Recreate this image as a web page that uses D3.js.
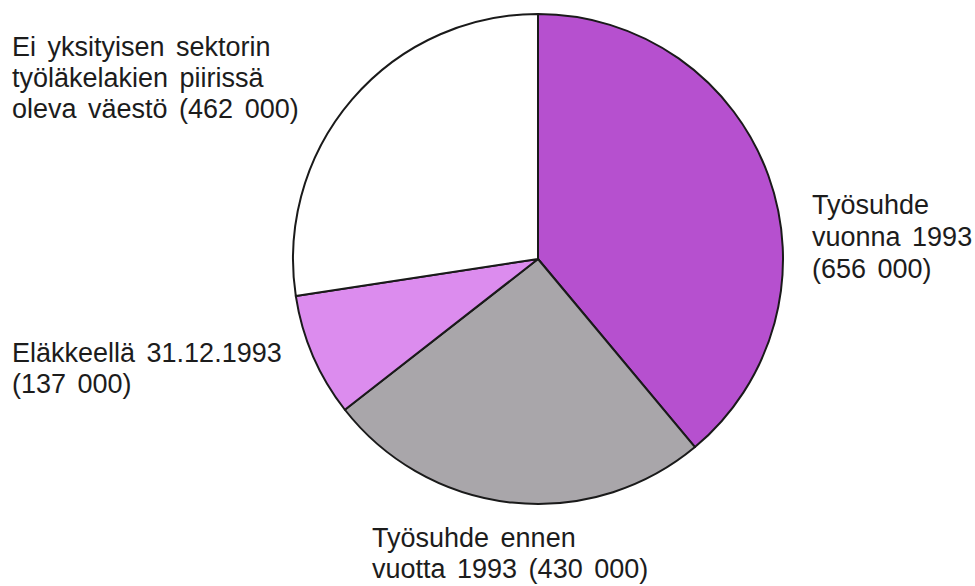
<!DOCTYPE html>
<html>
<head>
<meta charset="utf-8">
<script src="https://cdn.jsdelivr.net/npm/d3@7"></script>
<style>
  body { margin: 0; background: #fff; }
</style>
</head>
<body>
<script>

// Data, clockwise from 12 o'clock
var categories = ["Työsuhde vuonna 1993", "Työsuhde ennen vuotta 1993", "Eläkkeellä 31.12.1993", "Ei yksityisen sektorin työläkelakien piirissä oleva väestö"];
var values = [656000, 430000, 137000, 462000];
var sliceColors = ["#b650cf", "#a9a6aa", "#dc8cee", "#ffffff"];

// Label lines per slice
var labelLines = [
  ["Työsuhde", "vuonna 1993", "(656 000)"],
  ["Työsuhde ennen", "vuotta 1993 (430 000)"],
  ["Eläkkeellä 31.12.1993", "(137 000)"],
  ["Ei yksityisen sektorin", "työläkelakien piirissä", "oleva väestö (462 000)"]
];

var svg_width = 975, svg_height = 586;
var center = {x: 538, y: 259};
var radius = 245;

// label anchor points [x, first baseline, line step]
var labelPos = [
  [812, 214, 32],
  [372, 547, 31],
  [12, 362, 31],
  [12, 56, 31]
];

function start()
{
  var svg = d3.select("body").append("svg")
              .attr("width", svg_width)
              .attr("height", svg_height);

  var pieGroup = svg.append("g")
              .attr("transform", "translate(" + center.x + "," + center.y + ")");

  var pie = d3.pie().sort(null).value(function(d) { return d; });
  var arc = d3.arc().innerRadius(0).outerRadius(radius);

  pieGroup.selectAll("path")
          .data(pie(values))
          .enter()
          .append("path")
          .attr("d", arc)
          .style("fill", function(d, i) { return sliceColors[i]; })
          .style("stroke", "#1a1a1a")
          .style("stroke-width", 2)
          .style("stroke-linejoin", "round");

  // Labels
  var labels = svg.append("g").attr("class", "labels");
  labelLines.forEach(function(lines, i)
  {
    var t = labels.append("text")
                  .attr("x", labelPos[i][0])
                  .attr("y", labelPos[i][1])
                  .style("font-family", "'Liberation Sans', Arial, sans-serif")
                  .style("font-size", "27px")
                  .style("word-spacing", "4px")
                  .style("fill", "#1c1c1c");
    lines.forEach(function(line, j)
    {
      t.append("tspan")
       .attr("x", labelPos[i][0])
       .attr("dy", j == 0 ? 0 : labelPos[i][2])
       .text(line);
    });
  });
}

start();
</script>
</body>
</html>
